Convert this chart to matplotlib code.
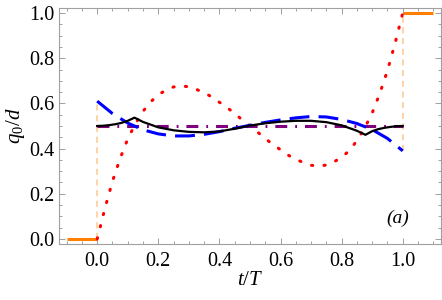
import matplotlib
matplotlib.use("Agg")
import matplotlib.pyplot as plt
from matplotlib.ticker import MultipleLocator

plt.rcParams["font.family"] = "Liberation Serif"
plt.rcParams["mathtext.fontset"] = "custom"
plt.rcParams["mathtext.rm"] = "Liberation Serif"
plt.rcParams["mathtext.it"] = "Liberation Serif:italic"

# values
t_red = [0.0, 0.025, 0.05, 0.075, 0.1, 0.125, 0.15, 0.175, 0.2, 0.225, 0.25,
         0.275, 0.3, 0.325, 0.35, 0.375, 0.4, 0.425, 0.45, 0.475, 0.5,
         0.525, 0.55, 0.575, 0.6, 0.625, 0.65, 0.675, 0.7, 0.725, 0.75,
         0.775, 0.8, 0.825, 0.85, 0.875, 0.9, 0.925, 0.95, 0.975, 1.0]
q_red = [0.0, 0.134, 0.255, 0.356, 0.443, 0.510, 0.565, 0.607, 0.638, 0.659, 0.673,
         0.677, 0.674, 0.662, 0.647, 0.629, 0.605, 0.582, 0.555, 0.527, 0.5,
         0.473, 0.445, 0.418, 0.395, 0.371, 0.353, 0.338, 0.326, 0.323, 0.327,
         0.341, 0.362, 0.390, 0.435, 0.490, 0.557, 0.644, 0.745, 0.866, 1.0]

t_blue = [0.0, 0.05, 0.1, 0.15, 0.2, 0.25, 0.3, 0.35, 0.4, 0.45, 0.5,
          0.55, 0.6, 0.65, 0.7, 0.75, 0.8, 0.85, 0.9, 0.95, 1.0]
q_blue = [0.61, 0.555, 0.513, 0.483, 0.465, 0.456, 0.456, 0.463, 0.475, 0.49, 0.503,
          0.516, 0.527, 0.536, 0.542, 0.540, 0.529, 0.511, 0.484, 0.445, 0.39]

t_black = [0.0, 0.02, 0.04, 0.06, 0.08, 0.1, 0.122, 0.15, 0.2, 0.25, 0.3, 0.35,
           0.4, 0.45, 0.5, 0.55, 0.6, 0.65, 0.7, 0.75, 0.8, 0.85, 0.878,
           0.9, 0.92, 0.94, 0.96, 0.98, 1.0]
q_black = [0.5, 0.501, 0.504, 0.508, 0.514, 0.523, 0.537, 0.518, 0.494, 0.481, 0.474, 0.472,
           0.476, 0.488, 0.502, 0.512, 0.519, 0.523, 0.523, 0.517, 0.503, 0.479, 0.461,
           0.477, 0.486, 0.492, 0.496, 0.499, 0.5]

t_purple = [0.0, 1.0]
q_purple = [0.5, 0.5]

t_before = [-0.1, 0.0]
q_before = [0.0, 0.0]
t_after = [1.0, 1.1]
q_after = [1.0, 1.0]

tick_vals = [0.0, 0.2, 0.4, 0.6, 0.8, 1.0]
tick_text = ["0.0", "0.2", "0.4", "0.6", "0.8", "1.0"]

fig = plt.figure(figsize=(4.42, 3.0), dpi=100)
ax = fig.add_axes([0.1335, 0.187, 0.864, 0.786])

# jumps at the ends
ax.plot([0, 0], [0.0, q_blue[0]], color="#FFC890", lw=1.1, ls=(0, (4, 3)))
ax.plot([1, 1], [q_blue[-1], 1.0], color="#FFC890", lw=1.1, ls=(0, (4, 3)))

ax.plot(t_before, q_before, color="#FF8000", lw=2.2, solid_capstyle="butt")
ax.plot(t_after, q_after, color="#FF8000", lw=2.2, solid_capstyle="butt")

ax.plot(t_purple, q_purple, color="#800080", lw=2.2, ls=(0, (3.9, 2.6, 0.6, 2.6)))
ax.plot(t_red, q_red, color="#FF0000", lw=2.2, ls=(0, (0.4, 3.7)),
        dash_capstyle="round")
ax.plot(t_blue, q_blue, color="#0000FF", lw=2.2, ls=(0, (6.5, 3.0)))
ax.plot(t_black, q_black, color="black", lw=1.6)

ax.text(1.02, 0.093, "(a)", fontsize=14, style="italic", ha="right", va="center")

ax.set_xlim(-0.125, 1.125)
ax.set_ylim(-0.022, 1.022)
ax.xaxis.set_minor_locator(MultipleLocator(0.05))
ax.yaxis.set_minor_locator(MultipleLocator(0.05))
ax.set_xticks(tick_vals)
ax.set_xticklabels(tick_text)
ax.set_yticks(tick_vals)
ax.set_yticklabels(tick_text)

frame = "#A0A0A0"
for s in ax.spines.values():
    s.set_color(frame)
    s.set_linewidth(0.8)
ax.tick_params(which="both", direction="in", top=True, right=True, color=frame,
               labelsize=14.5, width=0.7)
ax.tick_params(which="major", length=4.5)
ax.tick_params(axis="x", which="major", pad=6)
ax.tick_params(axis="y", which="major", pad=3)
ax.tick_params(which="minor", length=2.5)

ax.set_xlabel("$t/T$", fontsize=15, labelpad=0)
ax.set_ylabel("$q_0/d$", fontsize=15, labelpad=2)

fig.savefig("out.png", dpi=100)
